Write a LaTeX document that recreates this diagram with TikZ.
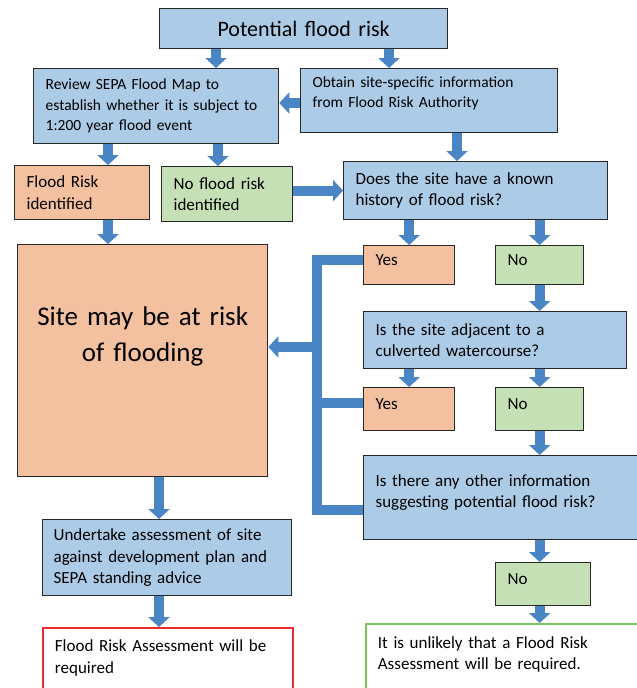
\documentclass[tikz,border=0pt]{standalone}
\usepackage{fontspec}
\setmainfont{Carlito}
\usetikzlibrary{arrows.meta}
\definecolor{boxblue}{RGB}{172,203,231}
\definecolor{boxorange}{RGB}{243,192,160}
\definecolor{boxgreen}{RGB}{197,224,180}
\definecolor{boxline}{RGB}{40,40,40}
\definecolor{flowblue}{RGB}{74,134,198}
\definecolor{redline}{RGB}{232,45,45}
\definecolor{greenline}{RGB}{125,196,90}
% invisible rule that pushes a box's text upwards
\newcommand\textlift[1]{\rule[-#1]{0pt}{0pt}}
\tikzset{
  box/.style={rectangle, draw=boxline, line width=1.3pt, anchor=north west,
    inner xsep=12pt, inner ysep=0pt, align=left,
    font=\fontsize{17}{21.5}\selectfont},
  smalltext/.style={font=\fontsize{15.5}{20.5}\selectfont},
  bluebox/.style={box, fill=boxblue},
  orangebox/.style={box, fill=boxorange},
  greenbox/.style={box, fill=boxgreen},
  flow/.style={draw=flowblue, line width=10pt, -{Triangle[length=10pt,width=21pt]}},
  pipe/.style={draw=flowblue, line width=10pt, line join=miter}
}
\begin{document}
\begin{tikzpicture}[x=1pt, y=-1pt]
      \clip (0,0) rectangle (637,688);
      \node[bluebox, align=center, minimum width=288pt, text width=264pt, minimum height=40pt,
        font=\fontsize{22}{26}\selectfont] (risk) at (159,8) {Potential flood risk};
      \node[bluebox, smalltext, minimum width=245pt, text width=221pt, minimum height=75pt] (review) at (33,68)
        {Review SEPA Flood Map to\\establish whether it is subject to\\1:200 year flood event};
      \node[bluebox, smalltext, minimum width=257pt, text width=233pt, minimum height=64pt] (obtain) at (300,68)
        {Obtain site-specific information\\from Flood Risk Authority\textlift{17pt}};
      \node[orangebox, minimum width=135pt, text width=111pt, minimum height=54pt] (frisk) at (14,165)
        {Flood Risk\\identified};
      \node[greenbox, minimum width=131pt, text width=107pt, minimum height=55pt] (nofrisk) at (161,166)
        {No flood risk\\identified};
      \node[bluebox, minimum width=264pt, text width=240pt, minimum height=58pt] (known) at (343,161)
        {Does the site have a known\\history of flood risk?};
      \node[orangebox, align=center, minimum width=250pt, text width=226pt, minimum height=232pt,
        font=\fontsize{27}{36}\selectfont] (site) at (17,244) {Site may be at risk\\of flooding\textlift{54pt}};
      \node[orangebox, minimum width=91pt, text width=67pt, minimum height=39pt] (yes1) at (363,245) {Yes\textlift{10pt}};
      \node[greenbox, minimum width=88pt, text width=64pt, minimum height=39pt] (no1) at (495,245) {No\textlift{10pt}};
      \node[bluebox, minimum width=263pt, text width=239pt, minimum height=57pt] (adjacent) at (363,311)
        {Is the site adjacent to a\\culverted watercourse?};
      \node[orangebox, minimum width=91pt, text width=67pt, minimum height=43pt] (yes2) at (363,387) {Yes\textlift{10pt}};
      \node[greenbox, minimum width=88pt, text width=64pt, minimum height=43pt] (no2) at (495,387) {No\textlift{10pt}};
      \node[bluebox, minimum width=290pt, text width=266pt, minimum height=84pt] (other) at (363,455)
        {Is there any other information\\suggesting potential flood risk?\textlift{13pt}};
      \node[greenbox, minimum width=95pt, text width=71pt, minimum height=43pt] (no3) at (495,562) {No\textlift{10pt}};
      \node[bluebox, minimum width=249pt, text width=227pt, inner xsep=11pt, minimum height=76pt] (assess) at (42,519)
        {Undertake assessment of site\\against development plan and\\SEPA standing advice};
      \node[box, draw=redline, line width=1.8pt, fill=white, minimum width=250pt, text width=226pt,
        minimum height=75pt] (required) at (42,627)
        {Flood Risk Assessment will be\\required\textlift{18pt}};
      \node[box, draw=greenline, line width=1.8pt, fill=white, minimum width=290pt, text width=266pt,
        minimum height=80pt] (unlikely) at (365,623)
        {It is unlikely that a Flood Risk\\Assessment will be required.\textlift{22pt}};
      \coordinate (t1) at (216,0);
      \coordinate (t2) at (389,0);
      \coordinate (c1) at (108,0);
      \coordinate (c2) at (218,0);
      \coordinate (c3) at (457,0);
      \coordinate (c4) at (159,0);
      \coordinate (r1) at (0,103);
      \coordinate (r2) at (0,403);
      \coordinate (bustop) at (317,260);
      \coordinate (busmid) at (317,347);
      \coordinate (busend) at (317,510);
      \begin{scope}
        \draw[flow] (risk.south -| t1) -- (review.north -| t1);
        \draw[flow] (risk.south -| t2) -- (obtain.north -| t2);
        \draw[flow] (obtain.west |- r1) -- (review.east |- r1);
        \draw[flow] (review.south -| c1) -- (frisk.north -| c1);
        \draw[flow] (review.south -| c2) -- (nofrisk.north -| c2);
        \draw[flow] (obtain.south -| c3) -- (known.north -| c3);
        \draw[flow] (nofrisk.east |- known.west) -- (known.west);
        \draw[flow] (frisk.south -| c1) -- (site.north -| c1);
        \draw[flow] (known.south -| yes1) -- (yes1.north);
        \draw[flow] (known.south -| no1) -- (no1.north);
        \draw[flow] (no1.south) -- (adjacent.north -| no1);
        \draw[flow] (adjacent.south -| yes2) -- (yes2.north);
        \draw[flow] (adjacent.south -| no2) -- (no2.north);
        \draw[flow] (no2.south) -- (other.north -| no2);
        \draw[flow] (other.south -| no2) -- (no3.north -| no2);
        \draw[flow] (no3.south -| no2) -- (unlikely.north -| no2);
        \draw[flow] (site.south -| c4) -- (assess.north -| c4);
        \draw[flow] (assess.south -| c4) -- (required.north -| c4);
      \end{scope}
      \draw[pipe] (yes1.west |- bustop) -- (bustop) -- (busend) -- (other.west |- busend);
      \draw[pipe] (yes2.west |- r2) -- (bustop |- r2);
      \draw[flow] (busmid) -- (site.east |- busmid);
    \end{tikzpicture}
\end{document}
